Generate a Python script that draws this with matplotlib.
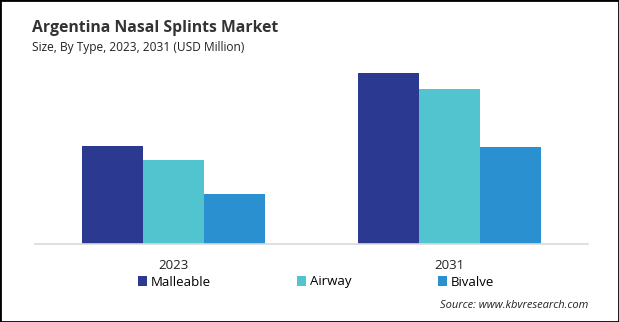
import matplotlib
matplotlib.use("Agg")
import matplotlib.pyplot as plt
from matplotlib.patches import Patch, Rectangle
import numpy as np

plt.rcParams['font.family'] = ['Open Sans', 'DejaVu Sans']

years = ["2023", "2031"]
series_names = ["Malleable", "Airway", "Bivalve"]
malleable = [9.8, 17.1]
airway = [8.4, 15.5]
bivalve = [5.0, 9.7]
colors = ["#2B3990", "#52C4CF", "#2A90D0"]

title = "Argentina Nasal Splints Market"
subtitle = "Size, By Type, 2023, 2031 (USD Million)"
source = "Source: www.kbvresearch.com"

W, H = 619, 322
fig = plt.figure(figsize=(W / 100, H / 100), dpi=100)
ax = fig.add_axes([35 / W, (H - 244) / H, (588 - 35) / W, (244 - 60) / H])

x = np.arange(len(years))
width = 0.221
for i, (vals, c) in enumerate(zip([malleable, airway, bivalve], colors)):
    ax.bar(x + (i - 1) * width, vals, width, color=c, label=series_names[i])

ax.set_xlim(-0.5, 1.5)
ax.set_ylim(0, 18.4)
ax.set_yticks([])
for s in ["top", "left", "right"]:
    ax.spines[s].set_visible(False)
ax.spines["bottom"].set_color("#D9D9D9")
ax.spines["bottom"].set_linewidth(1.2)
ax.set_xticks(x)
ax.set_xticklabels(years, fontsize=9.5, color="#222222")
ax.tick_params(axis="x", length=0, pad=11)

fig.text(32 / W, 1 - 28 / H, title, fontsize=11.3, fontweight="bold",
         color="#333333", va="center", ha="left")
fig.text(32 / W, 1 - 47 / H, subtitle, fontsize=8.6, color="#222222",
         va="center", ha="left")
fig.text(588 / W, 1 - 305 / H, source, fontsize=8, style="italic",
         color="#222222", va="center", ha="right")

handles = [Patch(facecolor=c, label=n) for c, n in zip(colors, series_names)]
fig.legend(handles=handles, loc="center left", bbox_to_anchor=(138 / W, 1 - 282 / H),
           ncol=3, frameon=False, fontsize=9.5, handlelength=0.7, handleheight=0.7,
           handletextpad=0.3, columnspacing=6.5, borderaxespad=0, borderpad=0)

fig.add_artist(Rectangle((0, 0), 1, 1, transform=fig.transFigure, fill=False,
                         edgecolor="black", linewidth=2.0))

fig.savefig("out.png", dpi=100)
